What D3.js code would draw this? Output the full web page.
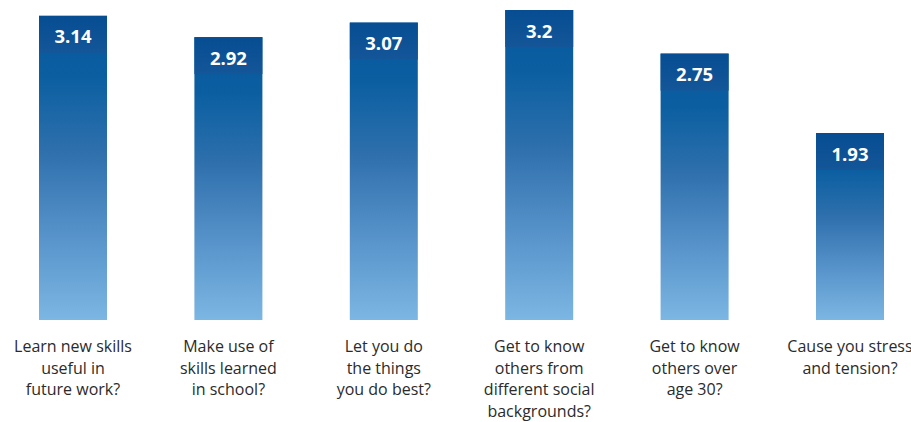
<!DOCTYPE html>
<html>
<head>
<meta charset="utf-8">
<script src="https://cdn.jsdelivr.net/npm/d3@7"></script>
<style>
  html, body { margin: 0; padding: 0; background: #ffffff; }
  svg { display: block; }
</style>
</head>
<body>
<svg id="chart" width="911" height="422"></svg>
<script>
// Survey items (each line of a label is a separate entry) and mean scores
const categories = [
  ["Learn new skills", "useful in", "future work?"],
  ["Make use of", "skills learned", "in school?"],
  ["Let you do", "the things", "you do best?"],
  ["Get to know", "others from", "different social", "backgrounds?"],
  ["Get to know", "others over", "age 30?"],
  ["Cause you stress", "and tension?"]
];
const scores = [3.14, 2.92, 3.07, 3.2, 2.75, 1.93];
const scoreLabels = ["3.14", "2.92", "3.07", "3.2", "2.75", "1.93"];

const svg = d3.select("#chart");
const baseY = 320;

const x = d3.scaleBand()
  .domain(d3.range(scores.length))
  .range([39, 884])
  .paddingInner(0.5624)
  .paddingOuter(0);

const y = d3.scaleLinear()
  .domain([0, 3.2])
  .range([baseY, 10]);

const defs = svg.append("defs");

// Body gradient: deep blue at the top fading to light sky blue at the base
const body = defs.append("linearGradient")
  .attr("id", "barBody")
  .attr("x1", 0).attr("y1", 0).attr("x2", 0).attr("y2", 1);
[
  [0.00, "#07579c"],
  [0.20, "#0b5fa1"],
  [0.45, "#2f70ad"],
  [0.70, "#5490c8"],
  [1.00, "#7cb6e3"]
].forEach(([o, c]) => body.append("stop").attr("offset", o).attr("stop-color", c));

// Cap band behind the value label
const cap = defs.append("linearGradient")
  .attr("id", "barCap")
  .attr("x1", 0).attr("y1", 0).attr("x2", 0).attr("y2", 1);
[
  [0.0, "#064d92"],
  [1.0, "#145698"]
].forEach(([o, c]) => cap.append("stop").attr("offset", o).attr("stop-color", c));

const capH = 37;

const g = svg.append("g");

const bars = g.selectAll("g.bar")
  .data(scores)
  .join("g")
  .attr("class", "bar");

bars.append("rect")
  .attr("x", (d, i) => x(i))
  .attr("y", d => y(d))
  .attr("width", x.bandwidth())
  .attr("height", d => baseY - y(d))
  .attr("fill", "url(#barBody)");

bars.append("rect")
  .attr("x", (d, i) => x(i))
  .attr("y", d => y(d))
  .attr("width", x.bandwidth())
  .attr("height", capH)
  .attr("fill", "url(#barCap)");

bars.append("text")
  .attr("x", (d, i) => x(i) + x.bandwidth() / 2)
  .attr("y", d => y(d) + 27.5)
  .attr("text-anchor", "middle")
  .attr("fill", "#ffffff")
  .attr("font-family", "'Open Sans', sans-serif")
  .attr("font-weight", 700)
  .attr("font-size", "18.5px")
  .text((d, i) => scoreLabels[i]);

// Category labels beneath each bar
const labels = g.selectAll("text.cat")
  .data(categories)
  .join("text")
  .attr("class", "cat")
  .attr("text-anchor", "middle")
  .attr("fill", "#2b2b2b")
  .attr("font-family", "'Open Sans', sans-serif")
  .attr("font-size", "16px");

labels.selectAll("tspan")
  .data((d, i) => d.map(line => ({ line, i })))
  .join("tspan")
  .attr("x", d => x(d.i) + x.bandwidth() / 2)
  .attr("y", (d, j) => 352 + j * 21.5)
  .text(d => d.line);
</script>
</body>
</html>
